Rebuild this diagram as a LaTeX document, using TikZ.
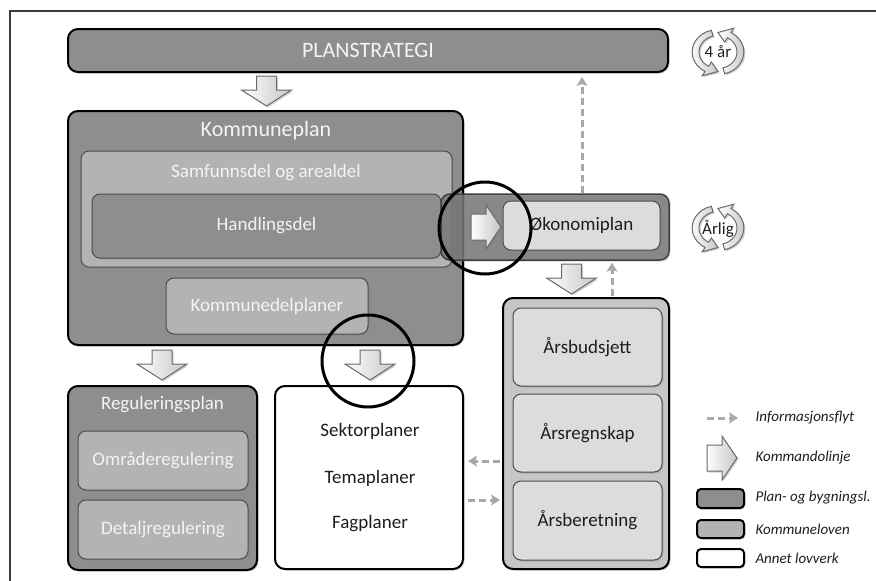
\documentclass[tikz,border=0pt]{standalone}
\usepackage{fontspec}
\setmainfont{Carlito}
\usetikzlibrary{fit,arrows.meta,shadows,calc}
\definecolor{dkfill}{HTML}{8E8E8E}
\definecolor{mdfill}{HTML}{B2B3B5}
\definecolor{ltfill}{HTML}{DCDCDC}
\definecolor{colfill}{HTML}{C6C6C6}
\definecolor{bandfill}{HTML}{767676}
\definecolor{txtw}{HTML}{F4F4F4}
\definecolor{txtd}{HTML}{1E1E1E}
\definecolor{dashgray}{HTML}{A8A8A8}
\definecolor{arrline}{HTML}{6A6A6A}
\definecolor{framec}{HTML}{3C3C3C}
\begin{document}
\begin{tikzpicture}[x=1pt,y=-1pt,
  shad/.style={drop shadow={opacity=0.35, shadow xshift=1.5pt, shadow yshift=-1.5pt}},
  outerbox/.style={draw=black, line width=2pt, rounded corners=10pt, inner sep=0pt, fit={#1}, shad},
  innerbox/.style={draw=black!70, line width=1pt, rounded corners=8pt, inner sep=0pt, fit={#1}, shad},
  fz/.style={font=\fontsize{#1}{#1}\selectfont},
  wt/.style={text=txtw, fz=19},
  dt/.style={text=txtd, fz=19},
  lgt/.style={text=txtd, font=\fontsize{15}{15}\selectfont\itshape, anchor=west},
  blkfill/.style={draw=arrline, line width=1pt, left color=white, right color=gray!45, shad},
  info/.style={draw=dashgray, line width=3pt, dash pattern=on 7pt off 4pt, -{Stealth[length=9pt, width=11pt, inset=2pt]}},
  downblk/.pic={\path[blkfill] (-10,0) -- (10,0) -- (10,14) -- (25,14) -- (0,30) -- (-25,14) -- (-10,14) -- cycle;},
  rightblk/.pic={\path[blkfill] (0,-13) -- (15,-13) -- (15,-22) -- (30,0) -- (15,22) -- (15,13) -- (0,13) -- cycle;},
  cycicon/.pic={
    \begin{scope}[xscale=1.15, y=1pt]
      \path[blkfill] (105:22.5) arc[start angle=105, end angle=240, radius=22.5] -- (240:27.5) -- (270:19.5) -- (240:11.5) -- (240:16.5) arc[start angle=240, end angle=105, radius=16.5] -- cycle;
      \path[blkfill] (285:22.5) arc[start angle=285, end angle=420, radius=22.5] -- (420:27.5) -- (450:19.5) -- (420:11.5) -- (420:16.5) arc[start angle=420, end angle=285, radius=16.5] -- cycle;
    \end{scope}}
]
\useasboundingbox (0,0) rectangle (876,581);

% frame
\coordinate (fr1) at (876,11);
\coordinate (fr2) at (10,11);
\coordinate (fr3) at (10,581);
\draw[framec, line width=2pt] (fr1) -- (fr2) -- (fr3);

% Planstrategi
\node[outerbox={(68,29) (668,72)}, fill=dkfill] (ps) {};
\node[text=txtw, fz=22] (pst) at (ps.center) {PLANSTRATEGI};

% Kommuneplan
\node[outerbox={(68,111) (463,345)}, fill=dkfill] (kp) {};
\node[text=txtw, fz=22] (kptitle) at (266,131) {Kommuneplan};
\node[innerbox={(81,151) (452,267)}, fill=mdfill] (sa) {};
\node[wt] (satitle) at (266,173) {Samfunnsdel og arealdel};
\node[innerbox={(92,194) (441,258)}, fill=dkfill] (hd) {};
\node[wt] (hdt) at (hd.center) {Handlingsdel};
\node[innerbox={(166,278) (368,334)}, fill=mdfill] (kdp) {};
\node[wt] (kdpt) at (kdp.center) {Kommunedelplaner};

% Okonomiplan band
\node[draw=black!75, line width=1.5pt, rounded corners=9pt, inner sep=0pt, fit={(441,194) (669,260)}, fill=bandfill, fill opacity=0.8, shad] (band) {};
\node[innerbox={(503,201) (660,250)}, fill=ltfill] (ok) {};
\node[dt] (okt) at (ok.center) {Økonomiplan};
\pic (rarr) at (471,227) {rightblk};

% arrow under planstrategi
\pic (a0) at (266.5,76) {downblk};

% Right column
\node[outerbox={(503,298) (669,569)}, fill=colfill] (col) {};
\node[innerbox={(513,308) (662,386)}, fill=ltfill] (ab) {};
\node[dt] (abt) at (ab.center) {Årsbudsjett};
\node[innerbox={(513,394) (662,472)}, fill=ltfill] (ar) {};
\node[dt] (art) at (ar.center) {Årsregnskap};
\node[innerbox={(513,481) (662,560)}, fill=ltfill] (abr) {};
\node[dt] (abrt) at (abr.center) {Årsberetning};
\pic (a3) at (571.5,264) {downblk};

% arrows below Kommuneplan
\pic (a1) at (162,350) {downblk};
\pic (a2) at (370,350) {downblk};

% Reguleringsplan
\node[outerbox={(68,386) (257,570)}, fill=dkfill] (rp) {};
\node[wt] (rptitle) at (162.5,405) {Reguleringsplan};
\node[innerbox={(78,431) (248,490)}, fill=mdfill] (or) {};
\node[wt] (ort) at (or.center) {Områderegulering};
\node[innerbox={(78,500) (248,559)}, fill=mdfill] (dr) {};
\node[wt] (drt) at (dr.center) {Detaljregulering};

% Sektorplaner box
\node[outerbox={(275,386) (463,569)}, fill=white] (sek) {};
\node[dt] (s1) at (370,431) {Sektorplaner};
\node[dt] (s2) at (370,478) {Temaplaner};
\node[dt] (s3) at (370,524) {Fagplaner};

% information flow arrows
\coordinate (upx) at (582,0);
\coordinate (upx2) at (612,0);
\coordinate (ly1) at (0,461);
\coordinate (ly2) at (0,500);
\draw[info, shorten >=4pt] (band.north -| upx) -- (ps.south -| upx);
\draw[info, shorten >=2pt, shorten <=1pt] (col.north -| upx2) -- (band.south -| upx2);
\draw[info, shorten >=4pt, shorten <=2pt] (col.west |- ly1) -- (sek.east |- ly1);
\draw[info, shorten >=2pt, shorten <=4pt] (sek.east |- ly2) -- (col.west |- ly2);

% cycle icons
\pic (cy1) at (718,52) {cycicon};
\node[dt, fz=17] (cy1t) at (718,52) {4 år};
\pic (cy2) at (718,228) {cycicon};
\node[dt, fz=17] (cy2t) at (718,229) {Årlig};

% highlight circles
\node[draw=black, line width=3pt, circle, minimum size=92pt, inner sep=0pt] (c1) at (485,228) {};
\node[draw=black, line width=3pt, circle, minimum size=92pt, inner sep=0pt] (c2) at (368,361) {};

% legend
\coordinate (lg1a) at (707,418);
\coordinate (lg1b) at (738,418);
\draw[info] (lg1a) -- (lg1b);
\node[lgt] (lt1) at (752,418) {Informasjonsflyt};
\pic (lgarr) at (707,458) {rightblk};
\node[lgt] (lt2) at (752,458) {Kommandolinje};
\node[outerbox={(697,489) (744,508)}, rounded corners=4pt, fill=dkfill] (lb1) {};
\node[lgt] (lt3) at (752,498) {Plan- og bygningsl.};
\node[outerbox={(697,520) (744,538)}, rounded corners=4pt, fill=mdfill] (lb2) {};
\node[lgt] (lt4) at (752,529) {Kommuneloven};
\node[outerbox={(697,549) (744,567)}, rounded corners=4pt, fill=white] (lb3) {};
\node[lgt] (lt5) at (752,558) {Annet lovverk};
\end{tikzpicture}
\end{document}
